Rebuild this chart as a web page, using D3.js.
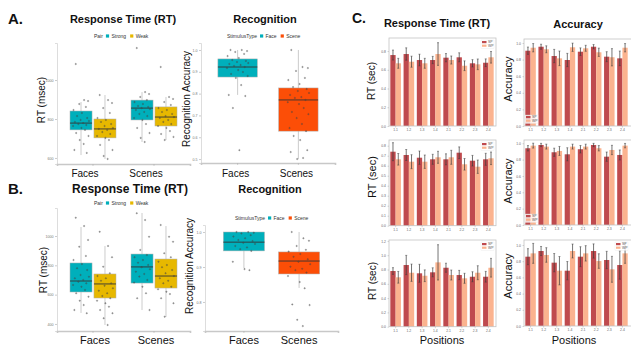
<!DOCTYPE html>
<html>
<head>
<meta charset="utf-8">
<script src="https://cdn.jsdelivr.net/npm/d3@7"></script>
<style>
  body { margin: 0; background: #fff; }
  text { font-family: "Liberation Sans", Arial, sans-serif; }
</style>
</head>
<body>
<script>
// ---- data: panels A / B (box plots) ----
const stimCats = ["Faces", "Scenes"];
const pairGroups = ["Strong", "Weak"];
const stimTypes = ["Face", "Scene"];

// jitter offsets (fraction of half box width) used for the dots
const jitter = [-0.6, 0.35, 0.8, -0.2, 0.55, -0.85, 0.1, -0.45, 0.7, -0.05, 0.9, -0.7,
  0.25, -0.3, 0.6, -0.9, 0.05, 0.45, -0.55, 0.85, -0.15, 0.3, -0.75, 0.65, -0.4, 0.15,
  0.75, -0.65, 0.4, -0.1];

// A. response time, msec : [lo, q1, median, q3, hi]
const aRtStats = [
  ["Faces", "Strong", 615, 744, 779, 841, 887],
  ["Faces", "Weak", 595, 703, 749, 800, 923],
  ["Scenes", "Strong", 682, 795, 856, 897, 938],
  ["Scenes", "Weak", 692, 764, 810, 862, 913]
];
const aRtFacesStrong = [1082, 897, 892, 877, 862, 846, 831, 815, 805, 795, 790, 785, 779, 774, 769, 764, 754, 744, 728, 713, 692, 672, 641, 626];
const aRtFacesWeak = [923, 897, 882, 856, 831, 805, 795, 785, 774, 764, 754, 749, 744, 733, 723, 713, 703, 692, 667, 641, 610, 595];
const aRtScenesStrong = [1164, 938, 928, 913, 897, 887, 877, 867, 862, 856, 851, 846, 836, 826, 815, 805, 795, 774, 754, 728, 703, 682];
const aRtScenesWeak = [1067, 913, 903, 887, 872, 856, 846, 836, 826, 815, 810, 805, 795, 785, 774, 764, 754, 738, 723, 708, 692];
const aRtTicks = [600, 800, 1000];

// A. recognition accuracy
const aRecStats = [
  ["Faces", "Face", 0.794, 0.876, 0.922, 0.959, 1.0],
  ["Scenes", "Scene", 0.5, 0.628, 0.771, 0.826, 1.0]
];
const aRecFaces = [1.0, 1.0, 0.995, 0.991, 0.982, 0.972, 0.963, 0.954, 0.95, 0.945, 0.94, 0.936, 0.931, 0.927, 0.922, 0.917, 0.908, 0.899, 0.89, 0.881, 0.872, 0.839, 0.794, 0.789, 0.734, 0.541];
const aRecScenes = [1.0, 0.922, 0.917, 0.904, 0.872, 0.862, 0.844, 0.83, 0.821, 0.812, 0.803, 0.794, 0.784, 0.78, 0.771, 0.761, 0.752, 0.734, 0.716, 0.706, 0.688, 0.661, 0.642, 0.628, 0.606, 0.587, 0.541, 0.532, 0.505, 0.5];
const aRecTicks = [0.5, 0.6, 0.7, 0.8, 0.9, 1.0];

// B. response time, msec
const bRtStats = [
  ["Faces", "Strong", 475, 618, 693, 816, 1061],
  ["Faces", "Weak", 393, 577, 673, 741, 932],
  ["Scenes", "Strong", 495, 679, 789, 877, 1157],
  ["Scenes", "Weak", 448, 645, 727, 843, 1068]
];
const bRtFacesStrong = [1125, 1068, 973, 927, 864, 836, 809, 780, 768, 734, 722, 711, 700, 688, 677, 666, 654, 632, 609, 586, 559, 529, 495, 473];
const bRtFacesWeak = [1029, 932, 855, 791, 746, 727, 711, 695, 677, 661, 643, 627, 609, 591, 575, 559, 541, 518, 495, 473, 439, 393];
const bRtScenesStrong = [1155, 1109, 995, 905, 870, 855, 836, 818, 802, 787, 773, 757, 741, 723, 700, 682, 654, 609, 575, 495];
const bRtScenesWeak = [1075, 995, 961, 882, 855, 825, 802, 787, 768, 746, 727, 711, 695, 677, 654, 636, 620, 604, 575, 541, 450];
const bRtTicks = [400, 600, 800, 1000];

// B. recognition accuracy
const bRecStats = [
  ["Faces", "Face", 0.897, 0.946, 0.971, 1.0, 1.0],
  ["Scenes", "Scene", 0.84, 0.88, 0.917, 0.943, 1.0]
];
const bRecFaces = [1.0, 1.0, 0.998, 0.996, 0.991, 0.987, 0.982, 0.977, 0.974, 0.969, 0.966, 0.96, 0.956, 0.951, 0.946, 0.915, 0.894, 0.891];
const bRecScenes = [1.0, 0.982, 0.975, 0.96, 0.949, 0.944, 0.937, 0.929, 0.922, 0.915, 0.908, 0.901, 0.895, 0.891, 0.884, 0.874, 0.857, 0.839, 0.793, 0.791, 0.749, 0.731];
const bRecTicks = [0.8, 0.9, 1.0];

// ---- data: panel C (bar charts) ----
const positions = ["1.1", "1.2", "1.3", "1.4", "2.1", "2.2", "2.3", "2.4"];
const barSeries = ["SP", "WP"];

const rt1SP = [0.757, 0.768, 0.704, 0.704, 0.729, 0.733, 0.669, 0.675];
const rt1WP = [0.669, 0.686, 0.669, 0.768, 0.704, 0.643, 0.658, 0.733];
const rt1SPerr = [0.053, 0.066, 0.062, 0.039, 0.044, 0.048, 0.039, 0.041];
const rt1WPerr = [0.053, 0.059, 0.053, 0.121, 0.043, 0.052, 0.057, 0.062];

const rt2SP = [0.74, 0.707, 0.68, 0.664, 0.664, 0.73, 0.65, 0.664];
const rt2WP = [0.664, 0.64, 0.64, 0.684, 0.684, 0.614, 0.59, 0.674];
const rt2SPerr = [0.09, 0.055, 0.067, 0.05, 0.055, 0.058, 0.053, 0.06];
const rt2WPerr = [0.058, 0.07, 0.067, 0.06, 0.07, 0.058, 0.067, 0.063];

const rt3SP = [0.779, 0.863, 0.747, 0.761, 0.825, 0.723, 0.699, 0.699];
const rt3WP = [0.691, 0.755, 0.713, 0.9, 0.723, 0.677, 0.755, 0.825];
const rt3SPerr = [0.047, 0.135, 0.126, 0.063, 0.063, 0.065, 0.07, 0.075];
const rt3WPerr = [0.082, 0.121, 0.082, 0.247, 0.07, 0.07, 0.098, 0.131];

const acc1SP = [0.907, 0.955, 0.843, 0.795, 0.895, 0.955, 0.835, 0.815];
const acc1WP = [0.943, 0.924, 0.815, 0.948, 0.936, 0.888, 0.828, 0.943];
const acc1SPerr = [0.044, 0.03, 0.08, 0.08, 0.046, 0.026, 0.06, 0.088];
const acc1WPerr = [0.05, 0.042, 0.088, 0.05, 0.036, 0.05, 0.104, 0.05];

const acc2SP = [0.939, 0.979, 0.89, 0.865, 0.927, 0.979, 0.836, 0.857];
const acc2WP = [0.971, 0.959, 0.906, 0.959, 0.959, 0.939, 0.918, 0.971];
const acc2SPerr = [0.033, 0.02, 0.05, 0.08, 0.046, 0.02, 0.057, 0.061];
const acc2WPerr = [0.03, 0.03, 0.055, 0.03, 0.03, 0.033, 0.057, 0.027];

const acc3SP = [0.856, 0.926, 0.782, 0.683, 0.856, 0.926, 0.815, 0.753];
const acc3WP = [0.897, 0.877, 0.683, 0.926, 0.897, 0.802, 0.7, 0.897];
const acc3SPerr = [0.099, 0.056, 0.113, 0.113, 0.123, 0.088, 0.107, 0.175];
const acc3WPerr = [0.123, 0.09, 0.175, 0.086, 0.095, 0.09, 0.16, 0.123];

const rt1Ticks = [0, 0.2, 0.4, 0.6, 0.8];
const rt2Ticks = [0, 0.1, 0.2, 0.3, 0.4, 0.5, 0.6, 0.7, 0.8];
const rt3Ticks = [0, 0.2, 0.4, 0.6, 0.8, 1.0, 1.2];
const accTicks = [0, 0.2, 0.4, 0.6, 0.8, 1.0];

const fillColors = { Strong: "#00AFBB", Weak: "#E7B800", Face: "#00AFBB", Scene: "#FC4E07" };
const barColors = { SP: "#bf4a4e", WP: "#fbb38f" };

const W = 631, H = 347;
const svg = d3.select("body").append("svg").attr("width", W).attr("height", H);

function txt(x, y, s, size, opts = {}) {
  return svg.append("text").attr("x", x).attr("y", y).text(s)
    .attr("font-size", size)
    .attr("font-weight", opts.bold ? "bold" : null)
    .attr("text-anchor", opts.anchor || "middle")
    .attr("fill", opts.fill || "#111");
}

function vLabel(x, y, s, size) {
  svg.append("text").attr("transform", `translate(${x},${y}) rotate(-90)`)
    .attr("text-anchor", "middle").attr("font-size", size).attr("fill", "#111").text(s);
}

// legend row like ggplot top legend: title, key, label, key, label
function legendRow(x, y, title, keys) {
  const g = svg.append("g").attr("font-size", 5).attr("fill", "#333");
  let cx = x;
  const t = g.append("text").attr("x", cx).attr("y", y + 1.7).text(title);
  cx += t.node().getComputedTextLength() + 3;
  keys.forEach(k => {
    g.append("rect").attr("x", cx).attr("y", y - 1.6).attr("width", 3.2).attr("height", 3.2)
      .attr("fill", fillColors[k.key]);
    cx += 5.5;
    const l = g.append("text").attr("x", cx).attr("y", y + 1.7).text(k.label);
    cx += l.node().getComputedTextLength() + 4;
  });
}

function boxPanel(o) {
  const x = d3.scaleBand().domain(stimCats).range([o.x0, o.x1])
    .paddingInner(o.pin).paddingOuter(o.pout);
  // dodged boxes for two groups, one full-width box per category otherwise
  const xsFor = grp => d3.scaleBand().domain(o.single ? [grp] : o.groups)
    .range([0, x.bandwidth()]).paddingInner(0.08);
  const y = d3.scaleLinear().domain(o.domain).range([o.y1, o.y0]);
  const g = svg.append("g");

  const ya = g.append("g").attr("transform", `translate(${o.x0},0)`)
    .call(d3.axisLeft(y).tickValues(o.ticks).tickSize(2).tickPadding(1.5).tickFormat(o.fmt));
  ya.select(".domain").attr("stroke", "#d4d4d4").attr("stroke-width", 0.8);
  ya.selectAll(".tick line").attr("stroke", "#999").attr("stroke-width", 0.5);
  ya.selectAll("text").attr("font-size", 3.6).attr("fill", "#777");

  const xa = g.append("g").attr("transform", `translate(0,${o.y1})`)
    .call(d3.axisBottom(x).tickSize(2).tickPadding(o.catPad));
  xa.select(".domain").attr("stroke", "#c8c8c8").attr("stroke-width", 1.6);
  xa.selectAll(".tick line").attr("stroke", "#aaa").attr("stroke-width", 0.5);
  xa.selectAll("text").attr("font-size", o.catSize).attr("fill", "#111")
    .attr("font-family", "Liberation Sans, Arial, sans-serif").attr("dx", o.catDx);

  o.stats.forEach((s, i) => {
    const [cat, grp, lo, q1, med, q3, hi] = s;
    const xs = xsFor(grp);
    const bx = x(cat) + xs(grp), bw = xs.bandwidth(), cx = bx + bw / 2;
    g.append("line").attr("x1", cx).attr("x2", cx).attr("y1", y(lo)).attr("y2", y(hi))
      .attr("stroke", "#aaa").attr("stroke-width", 0.6);
    g.append("rect").attr("x", bx).attr("width", bw)
      .attr("y", y(q3)).attr("height", y(q1) - y(q3))
      .attr("fill", fillColors[grp]).attr("stroke", "#b0b0b0").attr("stroke-width", 0.5);
    g.append("line").attr("x1", bx).attr("x2", bx + bw).attr("y1", y(med)).attr("y2", y(med))
      .attr("stroke", "#333").attr("stroke-width", 0.9);
    const spread = o.single ? 0.3 : 0.4;
    g.selectAll(null).data(o.points[i]).enter().append("circle")
      .attr("cx", (d, j) => cx + jitter[j % jitter.length] * bw * spread)
      .attr("cy", d => y(d))
      .attr("r", 0.75)
      .attr("fill", "#555").attr("fill-opacity", 0.6)
      .attr("stroke", "#333").attr("stroke-width", 0.2);
  });
}

function barPanel(o) {
  const x = d3.scaleBand().domain(positions).range([o.x0, o.x1]).paddingInner(0.2).paddingOuter(0.1);
  const xs = d3.scaleBand().domain(barSeries).range([0, x.bandwidth()]);
  const y = d3.scaleLinear().domain(o.domain).range([o.y1, o.y0]);
  const g = svg.append("g");

  const series = [
    { key: "SP", vals: o.sp, errs: o.spErr },
    { key: "WP", vals: o.wp, errs: o.wpErr }
  ];
  series.forEach(se => {
    g.selectAll(null).data(positions).enter().append("rect")
      .attr("x", p => x(p) + xs(se.key))
      .attr("width", xs.bandwidth())
      .attr("y", (p, i) => y(se.vals[i]))
      .attr("height", (p, i) => y(0) - y(se.vals[i]))
      .attr("fill", barColors[se.key]);
  });
  series.forEach(se => {
    positions.forEach((p, i) => {
      const cx = x(p) + xs(se.key) + xs.bandwidth() / 2;
      const t = y(se.vals[i] + se.errs[i]), b = y(se.vals[i] - se.errs[i]);
      g.append("line").attr("x1", cx).attr("x2", cx).attr("y1", t).attr("y2", b)
        .attr("stroke", "#3a3a3a").attr("stroke-width", 0.7);
      [t, b].forEach(yy => g.append("line").attr("x1", cx - 1).attr("x2", cx + 1)
        .attr("y1", yy).attr("y2", yy).attr("stroke", "#3a3a3a").attr("stroke-width", 0.5));
    });
  });

  g.append("rect").attr("x", o.x0).attr("y", o.y0)
    .attr("width", o.fx1 - o.x0).attr("height", o.y1 - o.y0)
    .attr("fill", "none").attr("stroke", "#c4c4c4").attr("stroke-width", 0.8);

  const ya = g.append("g").attr("transform", `translate(${o.x0},0)`)
    .call(d3.axisLeft(y).tickValues(o.ticks).tickSize(1.5).tickPadding(1.5).tickFormat(d3.format(".1f")));
  ya.select(".domain").remove();
  ya.selectAll(".tick line").attr("stroke", "#999").attr("stroke-width", 0.4);
  ya.selectAll("text").attr("font-size", 3.4).attr("fill", "#666");

  const xa = g.append("g").attr("transform", `translate(0,${o.y1})`)
    .call(d3.axisBottom(x).tickSize(1.5).tickPadding(1.5));
  xa.select(".domain").remove();
  xa.selectAll(".tick line").attr("stroke", "#999").attr("stroke-width", 0.4);
  xa.selectAll("text").attr("font-size", 3.4).attr("fill", "#666");

  // legend
  const lg = g.append("g").attr("font-size", 3.4).attr("fill", "#555");
  const lx = o.legend === "tr" ? o.x1 - 13 : o.x0 + 2;
  const ly = o.legend === "tr" ? o.y0 + 3 : o.y1 - 10;
  lg.append("rect").attr("x", lx - 1).attr("y", ly - 1).attr("width", 13).attr("height", 8.5)
    .attr("fill", "#fff").attr("fill-opacity", 0.8).attr("stroke", "#e2e2e2").attr("stroke-width", 0.3);
  barSeries.forEach((k, i) => {
    lg.append("rect").attr("x", lx).attr("y", ly + i * 3.6).attr("width", 4.5).attr("height", 2.2)
      .attr("fill", barColors[k]);
    lg.append("text").attr("x", lx + 6).attr("y", ly + i * 3.6 + 2.2).text(k);
  });
}

// ---------- panel A ----------
txt(8, 24, "A.", 15, { bold: true, anchor: "start" });
txt(123, 23, "Response Time (RT)", 11, { bold: true });
legendRow(94, 36, "Pair", [{ key: "Strong", label: "Strong" }, { key: "Weak", label: "Weak" }]);
vLabel(45, 100, "RT (msec)", 10);
boxPanel({
  x0: 57, x1: 190, y0: 43, y1: 164, pin: 0.246, pout: 0.213,
  domain: [569, 1190], ticks: aRtTicks, fmt: d3.format("d"),
  groups: pairGroups, stats: aRtStats,
  points: [aRtFacesStrong, aRtFacesWeak, aRtScenesStrong, aRtScenesWeak],
  catSize: 10, catPad: 4, catDx: -8
});

txt(265, 23, "Recognition", 11, { bold: true });
legendRow(227, 36, "StimulusType", [{ key: "Face", label: "Face" }, { key: "Scene", label: "Scene" }]);
vLabel(190, 99, "Recognition Accuracy", 10);
boxPanel({
  x0: 201, x1: 335, y0: 43, y1: 163, pin: 0.295, pout: 0.25,
  domain: [0.482, 1.032], ticks: aRecTicks, fmt: d3.format(".1f"),
  groups: stimTypes, stats: aRecStats, points: [aRecFaces, aRecScenes],
  catSize: 10, catPad: 5, catDx: -2, single: true
});

// ---------- panel B ----------
txt(8, 194, "B.", 15, { bold: true, anchor: "start" });
txt(130, 193, "Response Time (RT)", 12, { bold: true });
legendRow(94, 203, "Pair", [{ key: "Strong", label: "Strong" }, { key: "Weak", label: "Weak" }]);
vLabel(47, 270, "RT (msec)", 10);
boxPanel({
  x0: 57, x1: 190, y0: 208, y1: 331, pin: 0.246, pout: 0.213,
  domain: [352, 1191], ticks: bRtTicks, fmt: d3.format("d"),
  groups: pairGroups, stats: bRtStats,
  points: [bRtFacesStrong, bRtFacesWeak, bRtScenesStrong, bRtScenesWeak],
  catSize: 11, catPad: 3, catDx: 2
});

txt(270, 193, "Recognition", 11, { bold: true });
legendRow(235, 218, "StimulusType", [{ key: "Face", label: "Face" }, { key: "Scene", label: "Scene" }]);
vLabel(193, 266, "Recognition Accuracy", 10);
boxPanel({
  x0: 205, x1: 338, y0: 225, y1: 331, pin: 0.19, pout: 0.3,
  domain: [0.717, 1.02], ticks: bRecTicks, fmt: d3.format(".1f"),
  groups: stimTypes, stats: bRecStats, points: [bRecFaces, bRecScenes],
  catSize: 11, catPad: 3, catDx: 0, single: true
});

// ---------- panel C ----------
txt(352, 23, "C.", 14, { bold: true, anchor: "start" });
txt(437, 27, "Response Time (RT)", 11, { bold: true });
txt(578, 28, "Accuracy", 11, { bold: true });

vLabel(375, 81, "RT (sec)", 10);
vLabel(376, 177, "RT (sec)", 11);
vLabel(376, 281, "RT (sec)", 10);
vLabel(512, 79, "Accuracy", 11);
vLabel(512, 181, "Accuracy", 11);
vLabel(512, 276, "Accuracy", 11);

barPanel({ x0: 389, x1: 495, fx1: 496, y0: 38, y1: 126, domain: [0, 0.939], ticks: rt1Ticks,
  sp: rt1SP, wp: rt1WP, spErr: rt1SPerr, wpErr: rt1WPerr, legend: "tr" });
barPanel({ x0: 389, x1: 495, fx1: 496, y0: 140, y1: 225.7, domain: [0, 0.857], ticks: rt2Ticks,
  sp: rt2SP, wp: rt2WP, spErr: rt2SPerr, wpErr: rt2WPerr, legend: "tr" });
barPanel({ x0: 389, x1: 495, fx1: 496, y0: 240, y1: 326.7, domain: [0, 1.213], ticks: rt3Ticks,
  sp: rt3SP, wp: rt3WP, spErr: rt3SPerr, wpErr: rt3WPerr, legend: "tr" });

barPanel({ x0: 524, x1: 629, fx1: 633, y0: 39, y1: 126, domain: [0, 1.048], ticks: accTicks,
  sp: acc1SP, wp: acc1WP, spErr: acc1SPerr, wpErr: acc1WPerr, legend: "bl" });
barPanel({ x0: 524, x1: 629, fx1: 633, y0: 140, y1: 225, domain: [0, 1.04], ticks: accTicks,
  sp: acc2SP, wp: acc2WP, spErr: acc2SPerr, wpErr: acc2WPerr, legend: "bl" });
barPanel({ x0: 524, x1: 629, fx1: 633, y0: 240, y1: 326, domain: [0, 1.062], ticks: accTicks,
  sp: acc3SP, wp: acc3WP, spErr: acc3SPerr, wpErr: acc3WPerr, legend: "tr" });

txt(442, 344, "Positions", 11);
txt(574, 344, "Positions", 11);
</script>
</body>
</html>
